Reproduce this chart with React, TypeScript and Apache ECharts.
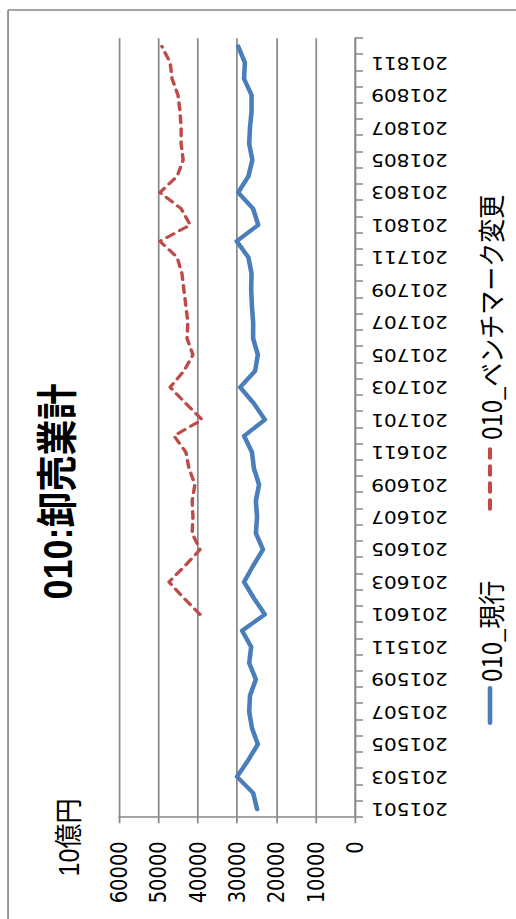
import React, { useEffect, useRef } from "react";
import * as echarts from "echarts";

// ---- data ----
const categories: string[] = [
  "201501", "201502", "201503", "201504", "201505", "201506", "201507", "201508", "201509", "201510", "201511", "201512",
  "201601", "201602", "201603", "201604", "201605", "201606", "201607", "201608", "201609", "201610", "201611", "201612",
  "201701", "201702", "201703", "201704", "201705", "201706", "201707", "201708", "201709", "201710", "201711", "201712",
  "201801", "201802", "201803", "201804", "201805", "201806", "201807", "201808", "201809", "201810", "201811", "201812",
];

const currentSeries: number[] = [
  24900, 25900, 30000, 27200, 24700, 26200, 26900, 26700, 25200, 26900, 26400, 28700,
  22900, 25700, 28200, 25900, 23400, 25200, 24900, 25200, 24400, 25700, 26200, 28200,
  22900, 25700, 29200, 25400, 24700, 25900, 25900, 26200, 26400, 26300, 27100, 30100,
  24600, 25900, 29700, 27100, 26100, 26900, 26700, 26300, 26300, 28200, 28000, 29700,
];

const benchmarkSeries: (number | null)[] = [
  null, null, null, null, null, null, null, null, null, null, null, null,
  39400, 43500, 47300, 43200, 39400, 41400, 41200, 41400, 40700, 42200, 43000, 46000,
  38900, 43000, 47000, 43500, 41200, 42700, 42500, 43000, 43500, 44000, 45200, 49600,
  41900, 44200, 49600, 45200, 43700, 44200, 44200, 44500, 45000, 46500, 47000, 49100,
];

const seriesNames: string[] = ["010_現行", "010_ベンチマーク変更"];
const titleText = "010:卸売業計";
const unitText = "10億円";
const valueMin = 0;
const valueMax = 60000;
const valueInterval = 10000;

// ---- layout (landscape chart, rotated onto the page) ----
const S = 1.15; // vertical stretch of the landscape chart
const W = 919;
const H = 516 / S;
const BLUE = "#4a7ebb";
const RED = "#be4b48";
const GRAY = "#888888";

export default function App() {
  const ref = useRef<HTMLDivElement>(null);

  useEffect(() => {
    if (!ref.current) return;
    const chart = echarts.init(ref.current, null, { renderer: "svg", width: W, height: H });
    const gridLeft = 101.7;
    const gridRight = 38.3;
    const gridTop = 119 / S;
    const gridBottom = H - 355 / S;
    const legendY = 490 / S;

    chart.setOption({
      animation: false,
      backgroundColor: "#ffffff",
      grid: { left: gridLeft, right: gridRight, top: gridTop, bottom: gridBottom, containLabel: false },
      xAxis: {
        type: "category",
        data: categories,
        boundaryGap: true,
        axisLine: { show: true, lineStyle: { color: GRAY, width: 1.5 } },
        axisTick: { show: true, interval: 0, length: 7, lineStyle: { color: GRAY, width: 1.5 } },
        axisLabel: {
          interval: 1,
          rotate: 90,
          margin: 14,
          color: "#000",
          fontSize: 17.5,
          fontFamily: "DejaVu Sans",
        },
        splitLine: { show: false },
      },
      yAxis: {
        type: "value",
        min: valueMin,
        max: valueMax,
        interval: valueInterval,
        axisLine: { show: true, lineStyle: { color: GRAY, width: 1.5 } },
        axisTick: { show: true, length: 6, lineStyle: { color: GRAY, width: 1.5 } },
        axisLabel: {
          margin: 24,
          color: "#000",
          fontSize: 19.5,
          fontFamily: "DejaVu Sans",
          formatter: (v: number) => String(v),
        },
        splitLine: { show: true, lineStyle: { color: GRAY, width: 1.5 } },
      },
      series: [
        {
          name: seriesNames[0],
          type: "line",
          data: currentSeries,
          showSymbol: false,
          symbol: "none",
          lineStyle: { color: BLUE, width: 4, cap: "round", join: "round" },
          itemStyle: { color: BLUE },
        },
        {
          name: seriesNames[1],
          type: "line",
          data: benchmarkSeries,
          showSymbol: false,
          symbol: "none",
          lineStyle: { color: RED, width: 3, type: [7, 6], cap: "round", join: "round" },
          itemStyle: { color: RED },
        },
      ],
      graphic: [
        { type: "line", shape: { x1: -20, y1: 7, x2: 909, y2: 7 }, style: { stroke: GRAY, lineWidth: 1.5 } },
        { type: "line", shape: { x1: 909, y1: 7, x2: 909, y2: H + 20 }, style: { stroke: GRAY, lineWidth: 1.5 } },
        {
          type: "text",
          x: 427.5,
          y: 57.5 / S,
          style: {
            text: titleText,
            align: "center",
            verticalAlign: "middle",
            fontSize: 36,
            fontWeight: "bold",
            fontFamily: '"Liberation Sans", "Noto Sans CJK JP", sans-serif',
            fill: "#000",
          },
        },
        {
          type: "text",
          x: 81.5,
          y: 69 / S,
          style: {
            text: unitText,
            align: "center",
            verticalAlign: "middle",
            fontSize: 25,
            fontFamily: '"Liberation Sans", "Noto Sans CJK JP", sans-serif',
            fill: "#000",
          },
        },
        {
          type: "line",
          shape: { x1: 196, y1: legendY, x2: 231, y2: legendY },
          style: { stroke: BLUE, lineWidth: 4, lineCap: "round" },
        },
        {
          type: "text",
          x: 237,
          y: legendY,
          style: {
            text: seriesNames[0],
            align: "left",
            verticalAlign: "middle",
            fontSize: 24,
            fontFamily: '"Noto Sans CJK JP", sans-serif',
            fill: "#000",
          },
        },
        {
          type: "line",
          shape: { x1: 410, y1: legendY, x2: 472, y2: legendY },
          style: { stroke: RED, lineWidth: 3.6, lineCap: "round", lineDash: [9, 8] },
        },
        {
          type: "text",
          x: 479,
          y: legendY,
          style: {
            text: seriesNames[1],
            align: "left",
            verticalAlign: "middle",
            fontSize: 24,
            fontFamily: '"Noto Sans CJK JP", sans-serif',
            fill: "#000",
          },
        },
      ],
    });

    return () => chart.dispose();
  }, []);

  return (
    <div
      style={{
        position: "fixed",
        left: 0,
        top: 0,
        width: 516,
        height: 919,
        overflow: "hidden",
        background: "#ffffff",
      }}
    >
      <div
        ref={ref}
        style={{
          position: "absolute",
          left: 0,
          top: 0,
          width: W,
          height: H,
          transformOrigin: "0 0",
          transform: `translate(0px, ${W}px) rotate(-90deg) scale(1, ${S})`,
        }}
      />
    </div>
  );
}
